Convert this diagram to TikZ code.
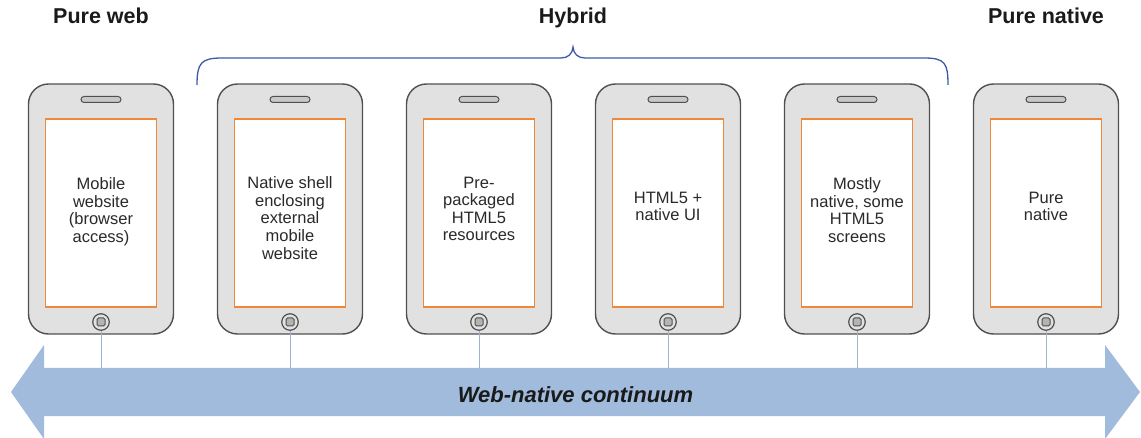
\documentclass[tikz,border=0pt]{standalone}
\usepackage{fontspec}
\setmainfont{Liberation Sans}
\definecolor{phoneline}{HTML}{505050}
\definecolor{phonefill}{HTML}{E1E1E1}
\definecolor{scrorange}{HTML}{F0883C}
\definecolor{spk}{HTML}{C8C8C8}
\definecolor{sqfill}{HTML}{B4B4B4}
\definecolor{stemblue}{HTML}{9AB4D6}
\definecolor{arrowblue}{HTML}{A0BBDB}
\definecolor{braceblue}{HTML}{3C5AA8}
\definecolor{txt}{HTML}{2A2A2A}
\definecolor{titletxt}{HTML}{1A1A1A}
\tikzset{
  phonebody/.style={draw=phoneline, fill=phonefill, line width=1.4pt, rounded corners=20pt, minimum width=145pt, minimum height=250pt, inner sep=0pt},
  screenbox/.style={draw=scrorange, fill=white, line width=1.3pt, minimum width=111pt, minimum height=188pt, inner sep=0pt},
  speaker/.style={draw=phoneline, fill=spk, line width=1pt, rounded corners=3pt, minimum width=40pt, minimum height=6pt, inner sep=0pt},
  homebtn/.style={circle, draw=phoneline, fill=phonefill, line width=1.2pt, minimum size=16.5pt, inner sep=0pt},
  homesq/.style={draw=phoneline, fill=sqfill, rounded corners=1.5pt, line width=1pt, minimum size=8pt, inner sep=0pt},
  stem/.style={draw=stemblue, line width=0.9pt},
  screentext/.style={align=center, font=\fontsize{16.5}{17.6}\selectfont, text=txt, anchor=north, inner sep=0pt},
  titlelbl/.style={font=\bfseries\fontsize{21.5}{24}\selectfont, text=titletxt, anchor=base, inner sep=0pt},
  bracepath/.style={draw=braceblue, line width=1.3pt},
}
\newcommand{\drawphone}[2]{%
  \node[phonebody] (#1-body) at (#2,209) {};
  \node[screenbox] (#1-screen) at (#2,213) {};
  \node[speaker] (#1-spk) at (#2,99.5) {};
  \node[homebtn] (#1-home) at (#2,322) {};
  \node[homesq] (#1-sq) at (#2,322) {};
}
\begin{document}
\begin{tikzpicture}[x=1pt,y=-1pt]
\useasboundingbox (0,0) rectangle (1141,438);
% coordinates on the arrow body
\foreach \n/\x in {p1/101,p2/290,p3/479,p4/668,p5/857,p6/1046}{
  \coordinate (\n-a) at (\x,380);
}
% phones
\drawphone{p1}{101}
\drawphone{p2}{290}
\drawphone{p3}{479}
\drawphone{p4}{668}
\drawphone{p5}{857}
\drawphone{p6}{1046}
% stems
\foreach \n in {p1,p2,p3,p4,p5,p6}{
  \draw[stem] (\n-home.south) -- (\n-a);
}
% continuum arrow
\fill[arrowblue] (11,392) -- (44,345) -- (44,368) -- (1105,368) -- (1105,345)
  -- (1140,392) -- (1105,439) -- (1105,416) -- (44,416) -- (44,439) -- cycle;
\node[font=\bfseries\itshape\fontsize{22}{26}\selectfont, text=titletxt, anchor=base, inner sep=0pt] (cont) at (575.5,402.7) {Web-native continuum};
% screen texts
\node[screentext] (t1) at (101,177.5) {Mobile\\website\\(browser\\access)};
\node[screentext] (t2) at (290,176.5) {Native shell\\enclosing\\external\\mobile\\website};
\node[screentext] (t3) at (479,176.5) {Pre-\\packaged\\HTML5\\resources};
\node[screentext] (t4) at (668,191.5) {HTML5 +\\native UI};
\node[screentext] (t5) at (857,177.5) {Mostly\\native, some\\HTML5\\screens};
\node[screentext] (t6) at (1046,191.5) {Pure\\native};
% titles
\node[titlelbl] (h1) at (101,24) {Pure web};
\node[titlelbl] (h2) at (573,24) {Hybrid};
\node[titlelbl] (h3) at (1046,24) {Pure native};
% brace
\draw[bracepath] (197,85) .. controls (197,63) and (201,58) .. (222,58)
  -- (561,58) .. controls (568,58) and (572.5,54) .. (573,47)
  .. controls (573.5,54) and (578,58) .. (585,58)
  -- (924,58) .. controls (945,58) and (948,63) .. (948,85);
\end{tikzpicture}
\end{document}
